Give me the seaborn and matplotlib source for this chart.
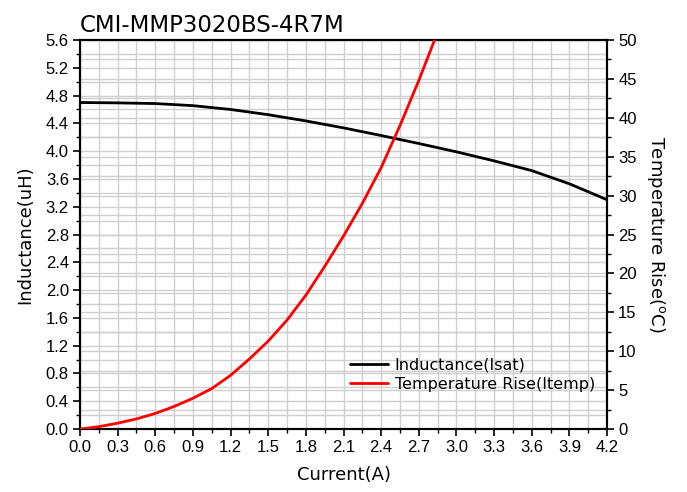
import numpy as np
import pandas as pd
import matplotlib
matplotlib.use('Agg')
import matplotlib.pyplot as plt
from matplotlib.ticker import MultipleLocator
import seaborn as sns

# data
current_l = [0.0, 0.3, 0.6, 0.9, 1.2, 1.5, 1.8, 2.1, 2.4, 2.7, 3.0, 3.3, 3.6, 3.9, 4.2]
inductance = [4.70, 4.695, 4.685, 4.655, 4.60, 4.525, 4.435, 4.335, 4.225, 4.11, 3.99, 3.86, 3.72, 3.53, 3.30]

current_t = [0.0, 0.15, 0.3, 0.45, 0.6, 0.75, 0.9, 1.05, 1.2, 1.35, 1.5, 1.65, 1.8,
             1.95, 2.1, 2.25, 2.4, 2.55, 2.7, 2.85]
temp_rise = [0.0, 0.3, 0.75, 1.3, 2.0, 2.9, 3.95, 5.2, 6.9, 9.0, 11.3, 14.0, 17.2,
             20.9, 24.8, 29.0, 33.6, 39.0, 44.8, 51.0]

title = 'CMI-MMP3020BS-4R7M'

sns.set_style('white')
plt.rcParams['font.family'] = ['DejaVu Sans']
plt.rcParams['text.color'] = 'black'
plt.rcParams['axes.labelcolor'] = 'black'
plt.rcParams['xtick.color'] = 'black'
plt.rcParams['ytick.color'] = 'black'

df_l = pd.DataFrame({'Current': current_l, 'L': inductance})
df_t = pd.DataFrame({'Current': current_t, 'T': temp_rise})

fig = plt.figure(figsize=(6.87, 4.92), dpi=100)
ax = fig.add_axes([0.1164, 0.128, 0.7672, 0.7907])
ax2 = ax.twinx()

grid_c = '#cfcfcf'
# vertical grid every 0.15, horizontal grid for both axes
ax.xaxis.set_major_locator(MultipleLocator(0.3))
ax.xaxis.set_minor_locator(MultipleLocator(0.15))
ax.yaxis.set_major_locator(MultipleLocator(0.4))
ax.yaxis.set_minor_locator(MultipleLocator(0.2))
ax.grid(True, which='both', color=grid_c, linewidth=1.0)
for t in np.arange(0, 50.01, 2.5):
    ax.axhline(t * 5.6 / 50, color=grid_c, linewidth=1.0, zorder=0.5)
ax.set_axisbelow(True)

sns.lineplot(data=df_l, x='Current', y='L', ax=ax, color='black', linewidth=2.0,
             label='Inductance(Isat)', legend=False, zorder=3)
sns.lineplot(data=df_t, x='Current', y='T', ax=ax2, color='#ff0000', linewidth=2.0,
             label='Temperature Rise(Itemp)', legend=False, zorder=3)

ax.set_xlim(0, 4.2)
ax.set_ylim(0, 5.6)
ax2.set_ylim(0, 50)
ax2.yaxis.set_major_locator(MultipleLocator(5))
ax2.yaxis.set_minor_locator(MultipleLocator(2.5))
ax2.grid(False)

tick_font = {'family': 'Liberation Sans', 'size': 12}
ax.set_xticks(np.arange(0, 4.21, 0.3))
ax.set_xticklabels([f'{v:.1f}' for v in np.arange(0, 4.21, 0.3)], fontdict=tick_font)
ax.set_yticks(np.arange(0, 5.61, 0.4))
ax.set_yticklabels([f'{v:.1f}' for v in np.arange(0, 5.61, 0.4)], fontdict=tick_font)
ax2.set_yticks(np.arange(0, 50.1, 5))
ax2.set_yticklabels([f'{v:d}' for v in range(0, 51, 5)], fontdict=tick_font)

for a in (ax, ax2):
    a.tick_params(which='major', direction='out', length=5, width=1.2, color='black', pad=3)
    a.tick_params(which='minor', direction='out', length=3, width=1.0, color='black')
    for s in a.spines.values():
        s.set_color('black')
        s.set_linewidth(1.5)
ax.tick_params(axis='x', which='both', bottom=True)
ax.tick_params(axis='y', which='both', left=True)
ax2.tick_params(axis='y', which='both', right=True)

ax.set_xlabel('Current(A)', fontsize=13, labelpad=8)
ax.set_ylabel('Inductance(uH)', fontsize=13, labelpad=8)
ax2.set_ylabel(r'Temperature Rise($^{\mathrm{o}}$C)', fontsize=13, rotation=270, labelpad=22)
ax.set_title(title, loc='left', fontsize=16.5, pad=6)

h1, l1 = ax.get_legend_handles_labels()
h2, l2 = ax2.get_legend_handles_labels()
ax.legend(h1 + h2, l1 + l2, loc='upper left', bbox_to_anchor=(0.5, 0.2),
          frameon=False, fontsize=11.5, handlelength=2.4, handletextpad=0.4,
          labelspacing=0.25, borderaxespad=0)
ax.get_legend().set_zorder(5)

fig.savefig('out.png', dpi=100)
